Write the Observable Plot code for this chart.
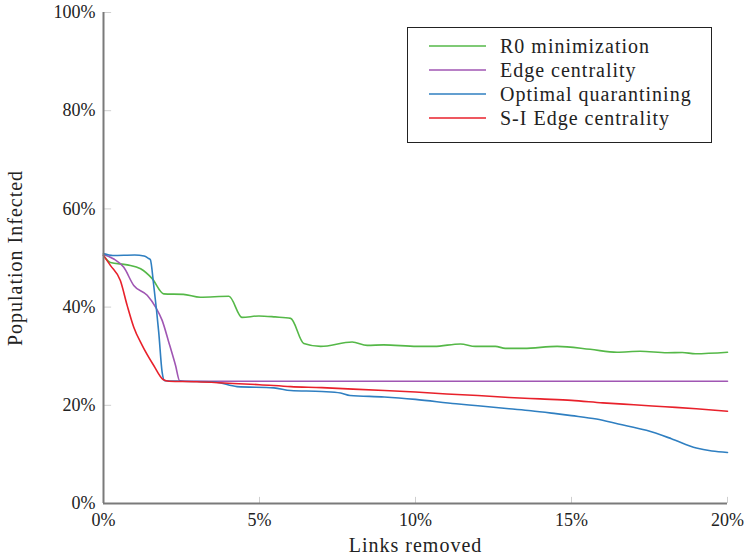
<!DOCTYPE html>
<html>
<head>
<meta charset="utf-8">
<script src="https://cdn.jsdelivr.net/npm/d3@7"></script>
<script src="https://cdn.jsdelivr.net/npm/@observablehq/plot@0.6"></script>
<style>
  html, body { margin: 0; padding: 0; background: #fff; }
  #wrap { position: relative; width: 750px; height: 555px; font-family: "Liberation Serif", serif; }
  #legend { position: absolute; left: 407px; top: 27px; width: 303px; height: 108px; border: 1px solid #222; background: #fff; box-sizing: content-box; padding-top: 6px; }
  .row { height: 24px; display: flex; align-items: center; font-size: 20px; letter-spacing: 1px; color: #222; }
  .row svg { margin-left: 21px; margin-right: 14px; }
  g[aria-label="x-axis label"] text, g[aria-label="y-axis label"] text { font-size: 20px; letter-spacing: 1px; }
</style>
</head>
<body>
<div id="wrap"><div id="chart"></div><div id="legend"></div></div>
<script>
const seriesNames = ["R0 minimization", "Edge centrality", "Optimal quarantining", "S-I Edge centrality"];
const seriesColors = ["#55b848", "#a056b3", "#2f7fc1", "#e8212b"];

const greenX = [0,0.22,0.76,1.19,1.56,1.93,2.56,3.1,4.02,4.44,4.98,5.5,6.0,6.42,6.96,7.97,8.45,8.98,10.05,10.6,11.44,11.92,12.56,12.88,13.47,14.54,15.6,16.46,17.2,18.07,18.55,18.97,20];
const greenY = [50.5,49.1,48.6,47.8,45.8,42.7,42.6,42.0,42.2,37.9,38.2,38.0,37.7,32.6,32.0,32.9,32.2,32.3,32.0,32.0,32.5,32.0,32.0,31.6,31.6,32.0,31.4,30.8,31.0,30.7,30.75,30.5,30.8];

const purpleX = [0,0.33,0.65,0.97,1.4,1.67,1.88,2.09,2.31,2.44,2.6,20];
const purpleY = [50.7,49.8,48.1,44.4,42.4,40.0,37.3,32.9,28.1,25.0,24.9,24.9];

const blueX = [0,0.3,1.0,1.3,1.45,1.5,1.61,1.77,1.88,1.96,2.5,3.5,3.64,4.28,5.46,6.0,7.0,7.6,7.9,9.0,10.0,11.3,12.0,13.0,13.7,14.5,15.0,15.8,16.5,17.4,18.2,19.0,19.5,20];
const blueY = [50.9,50.5,50.6,50.4,49.9,49.7,44.4,34.9,26.7,25.0,24.9,24.8,24.7,23.8,23.55,23.0,22.8,22.5,22.0,21.7,21.2,20.3,19.9,19.3,18.9,18.3,17.9,17.2,16.2,14.9,13.2,11.3,10.7,10.4];

const redX = [0,0.22,0.54,0.76,0.97,1.24,1.61,1.91,2.1,3,4,5,6,7,8,9,10,11,12,13,14,15,16,17,18,19,20];
const redY = [50.5,48.5,45.4,40.3,35.9,32.2,28.1,25.25,24.9,24.8,24.5,24.2,23.8,23.6,23.3,23.0,22.7,22.3,22.0,21.6,21.3,21.0,20.5,20.1,19.7,19.3,18.8];

const xTicks = [0,5,10,15,20];
const yTicks = [0,20,40,60,80,100];

const allX = [greenX, purpleX, blueX, redX];
const allY = [greenY, purpleY, blueY, redY];
const data = allX.flatMap((xs, s) => xs.map((x, i) => ({series: seriesNames[s], x, y: allY[s][i]})));

const axisColor = "#7a7a7a";
const tickColor = "#cfcfcf";

const chart = Plot.plot({
  width: 750,
  height: 555,
  marginLeft: 103,
  marginRight: 23,
  marginTop: 12,
  marginBottom: 52,
  style: {fontFamily: "'Liberation Serif', serif", fontSize: "18px", color: "#222", background: "#fff"},
  x: {domain: [0, 20]},
  y: {domain: [0, 100]},
  color: {domain: seriesNames, range: seriesColors},
  marks: [
    Plot.gridX(xTicks.slice(1), {y1: 0, y2: 1.25, stroke: tickColor, strokeOpacity: 1, strokeWidth: 1}),
    Plot.gridY(yTicks.slice(1), {x1: 0, x2: 0.26, stroke: tickColor, strokeOpacity: 1, strokeWidth: 1}),
    Plot.axisX(xTicks, {tickSize: 0, tickPadding: 10, tickFormat: d => d + "%", label: "Links removed", labelAnchor: "center", labelOffset: 48, labelArrow: "none"}),
    Plot.axisY(yTicks, {tickSize: 0, tickPadding: 8, tickFormat: d => d + "%", label: "Population Infected", labelAnchor: "center", labelOffset: 96, labelArrow: "none"}),
    Plot.line(data, {x: "x", y: "y", z: "series", stroke: "series", strokeWidth: 1.6, curve: "monotone-x"}),
    Plot.ruleX([0], {stroke: axisColor, strokeWidth: 2}),
    Plot.ruleY([0], {stroke: axisColor, strokeWidth: 2})
  ]
});
document.getElementById("chart").appendChild(chart);

const legend = document.getElementById("legend");
seriesNames.forEach((name, i) => {
  const row = document.createElement("div");
  row.className = "row";
  row.innerHTML = `<svg width="57" height="4"><line x1="0" x2="57" y1="2" y2="2" stroke="${seriesColors[i]}" stroke-width="1.6"/></svg><span>${name}</span>`;
  legend.appendChild(row);
});
</script>
</body>
</html>
